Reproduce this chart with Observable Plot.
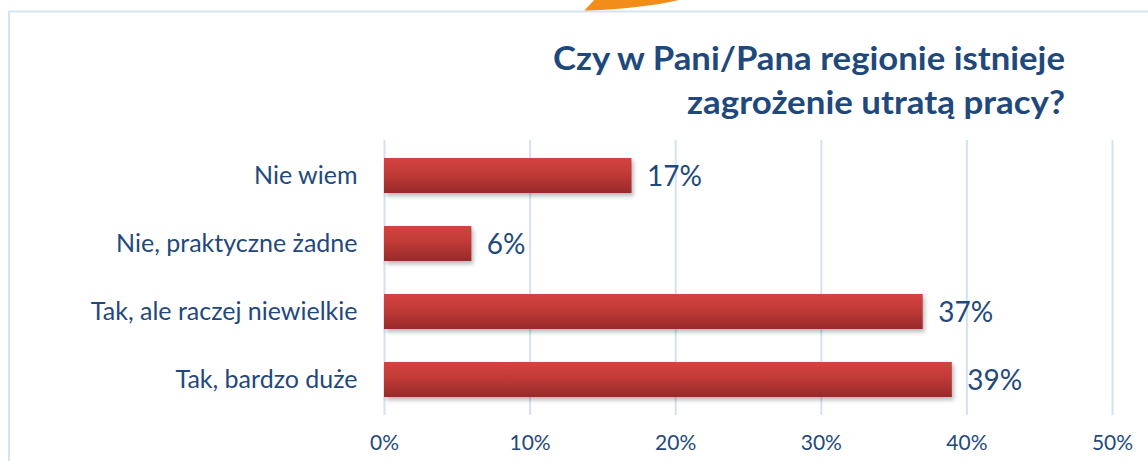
<!DOCTYPE html>
<html>
<head>
<meta charset="utf-8">
<script src="https://cdn.jsdelivr.net/npm/d3@7"></script>
<script src="https://cdn.jsdelivr.net/npm/@observablehq/plot@0.6"></script>
<style>
  html, body { margin: 0; padding: 0; background: #fff; }
  #wrap { position: relative; width: 1148px; height: 461px; overflow: hidden; font-family: Lato, "Noto Sans", sans-serif; }
  #wrap > svg { position: absolute; left: 0; top: 0; }
  #chart g[aria-label="bar"] rect { filter: drop-shadow(2px 3px 2px rgba(0,0,0,0.28)); }
</style>
</head>
<body>
<div id="wrap">
  <svg id="deco" width="1148" height="461" style="position:absolute;left:0;top:0">
    <path d="M584,11 C620,9 660,6 686,-2 L596,-2 Z" fill="#F28C1A"/>
    <line x1="8" y1="11.5" x2="1148" y2="11.5" stroke="#D7E3F1" stroke-width="2"/>
    <line x1="9" y1="11" x2="9" y2="461" stroke="#D7E3F1" stroke-width="2"/>
    <text x="1065" y="70" text-anchor="end" font-family="Lato, 'Noto Sans', sans-serif" font-weight="700" font-size="32" fill="#1F497D" textLength="512" lengthAdjust="spacingAndGlyphs">Czy w Pani/Pana regionie istnieje</text>
    <text x="1065" y="114" text-anchor="end" font-family="Lato, 'Noto Sans', sans-serif" font-weight="700" font-size="32" fill="#1F497D" textLength="378" lengthAdjust="spacingAndGlyphs">zagrożenie utratą pracy?</text>
  </svg>
</div>
<script>
const categories = ["Nie wiem", "Nie, praktyczne żadne", "Tak, ale raczej niewielkie", "Tak, bardzo duże"];
const values = [0.17, 0.06, 0.37, 0.39];
const xTicks = [0, 0.1, 0.2, 0.3, 0.4, 0.5];

const data = categories.map((c, i) => ({category: c, value: values[i]}));
const textColor = "#1F497D";

const chart = Plot.plot({
  width: 1148,
  height: 461,
  marginLeft: 384,
  marginRight: 36,
  marginTop: 140,
  marginBottom: 46,
  style: {fontFamily: "Lato, 'Noto Sans', sans-serif", background: "transparent", color: textColor},
  x: {domain: [0, 0.5], ticks: xTicks, tickFormat: d3.format(".0%"), label: null},
  y: {domain: categories, paddingInner: 0.49, paddingOuter: 0.245, label: null},
  marks: [
    Plot.gridX(xTicks, {stroke: "#D3E1F2", strokeOpacity: 1, strokeWidth: 2}),
    Plot.barX(data, {x: "value", y: "category", fill: "url(#barGrad)"}),
    Plot.text(data, {x: "value", y: "category", text: d => d3.format(".0%")(d.value), textAnchor: "start", dx: 15, dy: 1, fontSize: 28, fill: textColor}),
    Plot.axisX(xTicks, {tickSize: 0, tickPadding: 20, fontSize: 21, fill: textColor, tickFormat: d3.format(".0%")}),
    Plot.axisY({tickSize: 0, tickPadding: 27, fontSize: 25, fill: textColor})
  ]
});
chart.id = "chart";
const defs = d3.select(chart).insert("defs", ":first-child");
const g = defs.append("linearGradient").attr("id", "barGrad").attr("x1", 0).attr("y1", 0).attr("x2", 0).attr("y2", 1);
g.append("stop").attr("offset", "0%").attr("stop-color", "#D3433F");
g.append("stop").attr("offset", "45%").attr("stop-color", "#C13A37");
g.append("stop").attr("offset", "100%").attr("stop-color", "#962A2A");
document.getElementById("wrap").insertBefore(chart, document.getElementById("deco"));
</script>
</body>
</html>
